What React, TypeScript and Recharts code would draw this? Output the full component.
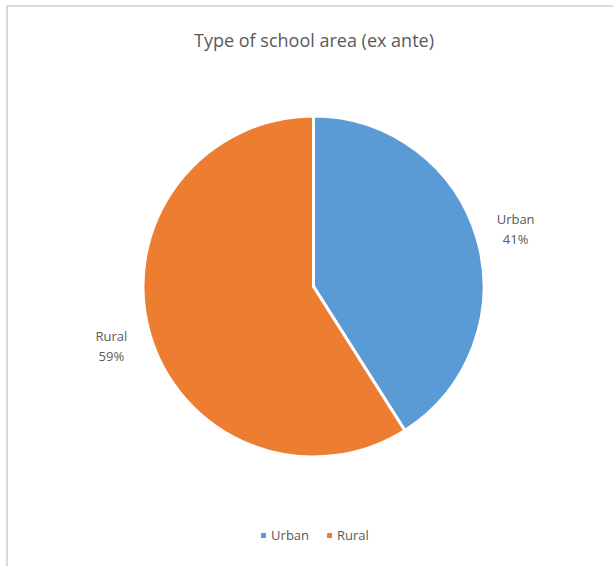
import React from 'react';
import { PieChart, Pie, Cell, Legend } from 'recharts';

const categories = ['Urban', 'Rural'];
const shares = [41, 59];
const colors = ['#5B9BD5', '#ED7D31'];

const data = categories.map((name, i) => ({ name, value: shares[i] }));

const RADIAN = Math.PI / 180;
const FONT = '"Open Sans", "Noto Sans", sans-serif';

const renderLabel = (props: any) => {
    const { cx, cy, midAngle, outerRadius, name, percent } = props;
    const r = outerRadius + 40;
    const x = cx + r * Math.cos(-midAngle * RADIAN);
    const y = cy + r * Math.sin(-midAngle * RADIAN);
    return (
        <text x={x} y={y} fill="#595959" fontSize={13} fontFamily={FONT} textAnchor="middle">
            <tspan x={x} dy={-4}>{name}</tspan>
            <tspan x={x} dy={20}>{`${Math.round(percent * 100)}%`}</tspan>
        </text>
    );
};

const renderLegend = () => (
    <div style={{ display: 'flex', justifyContent: 'center', alignItems: 'center', fontFamily: FONT, fontSize: 13, color: '#595959' }}>
        {data.map((d, i) => (
            <span key={d.name} style={{ display: 'flex', alignItems: 'center', marginRight: i === 0 ? 18 : 0 }}>
                <span style={{ width: 5, height: 5, background: colors[i], display: 'inline-block', marginRight: 5 }} />
                {d.name}
            </span>
        ))}
    </div>
);

export default function App() {
    return (
        <div style={{ position: 'absolute', left: 0, top: 0, width: 613, height: 566, background: '#fff' }}>
            <div style={{ position: 'absolute', left: 6, top: 5, width: 607, height: 561, borderLeft: '2px solid #d9d9d9', borderTop: '2px solid #d9d9d9', boxSizing: 'border-box' }} />
            <div style={{ position: 'absolute', left: 0, top: 28, width: 628, textAlign: 'center', fontFamily: FONT, fontSize: 18, color: '#595959' }}>
                Type of school area (ex ante)
            </div>
            <PieChart width={613} height={566} margin={{ top: 0, right: 0, bottom: 0, left: 0 }} style={{ position: 'absolute', left: 0, top: 0 }}>
                <Pie
                    data={data}
                    dataKey="value"
                    nameKey="name"
                    cx={313.5}
                    cy={286.5}
                    outerRadius={170.5}
                    startAngle={90}
                    endAngle={-270}
                    stroke="#fff"
                    strokeWidth={3}
                    labelLine={false}
                    label={renderLabel}
                    isAnimationActive={false}
                >
                    {data.map((d, i) => (
                        <Cell key={`cell-${i}`} fill={colors[i]} />
                    ))}
                </Pie>
                <Legend content={renderLegend} verticalAlign="bottom" wrapperStyle={{ left: 0, width: 630, top: 526 }} />
            </PieChart>
        </div>
    );
}
